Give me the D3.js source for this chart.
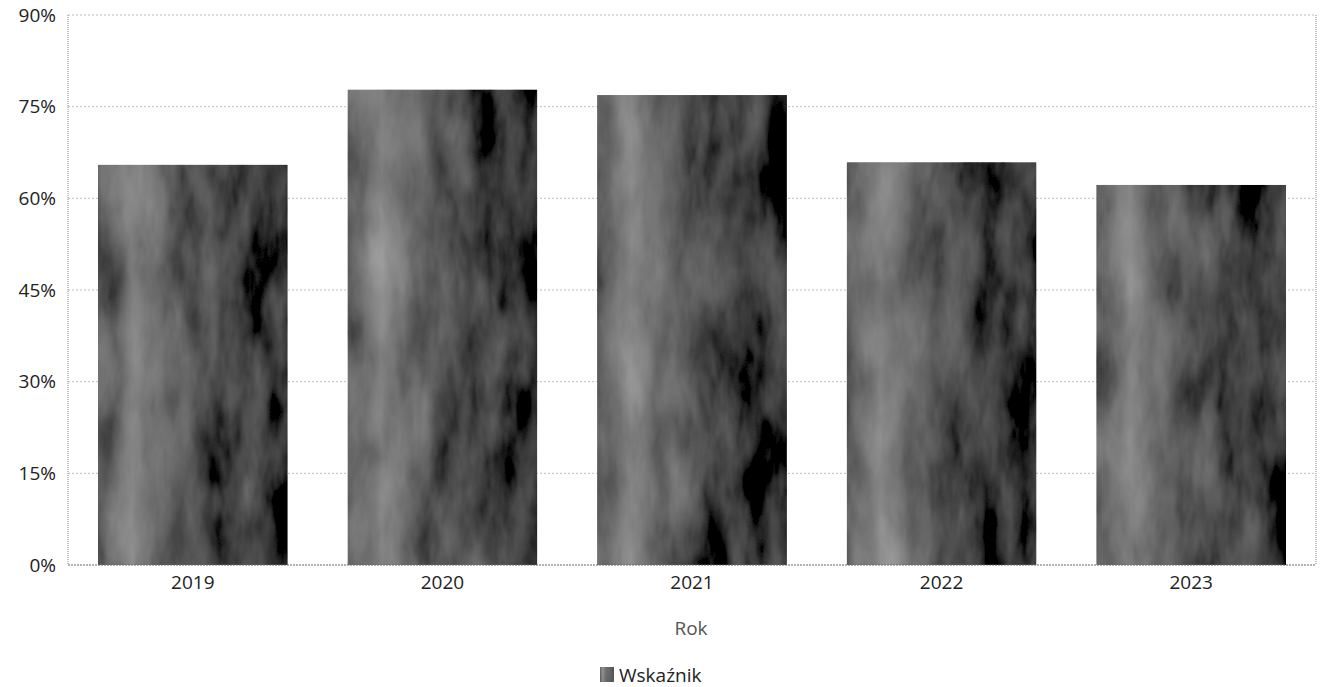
<!DOCTYPE html>
<html>
<head>
<meta charset="utf-8">
<script src="https://cdn.jsdelivr.net/npm/d3@7"></script>
<style>
  body { margin: 0; background: #fff; }
  text { font-family: "Open Sans", "Noto Sans", sans-serif; fill: #222; }
</style>
</head>
<body>
<div id="chart"></div>
<script>
const years = ["2019", "2020", "2021", "2022", "2023"];
const values = [65.5, 77.8, 76.9, 65.9, 62.2];
const yTicks = [0, 15, 30, 45, 60, 75, 90];
const seriesName = "Wskaźnik";
const xTitle = "Rok";

const W = 1325, H = 687;
const margin = { top: 15, right: 9, bottom: 122, left: 68 };
const width = W - margin.left - margin.right,
      height = H - margin.top - margin.bottom;

const svg = d3.select("#chart").append("svg")
  .attr("width", W)
  .attr("height", H);

// grey, scanned-looking texture for the bars
const defs = svg.append("defs");
const grad = defs.append("linearGradient").attr("id", "barGrad")
  .attr("x1", "0").attr("x2", "1").attr("y1", "0").attr("y2", "0");
grad.append("stop").attr("offset", "0").attr("stop-color", "#5e5e5e");
grad.append("stop").attr("offset", "0.18").attr("stop-color", "#888");
grad.append("stop").attr("offset", "0.45").attr("stop-color", "#585858");
grad.append("stop").attr("offset", "0.75").attr("stop-color", "#444");
grad.append("stop").attr("offset", "1").attr("stop-color", "#333");

const filt = defs.append("filter").attr("id", "grain")
  .attr("x", 0).attr("y", 0).attr("width", 1).attr("height", 1);
filt.append("feTurbulence").attr("type", "fractalNoise")
  .attr("baseFrequency", "0.03 0.01").attr("numOctaves", 4).attr("seed", 7)
  .attr("result", "noise");
filt.append("feColorMatrix").attr("in", "noise").attr("type", "matrix")
  .attr("values", "0.33 0.33 0.33 0 0  0.33 0.33 0.33 0 0  0.33 0.33 0.33 0 0  0 0 0 0 1")
  .attr("result", "gray");
filt.append("feComposite").attr("in", "SourceGraphic").attr("in2", "gray")
  .attr("operator", "arithmetic")
  .attr("k1", 0).attr("k2", 1).attr("k3", 0.45).attr("k4", -0.23)
  .attr("result", "mixed");
filt.append("feComposite").attr("in", "mixed").attr("in2", "SourceGraphic")
  .attr("operator", "in");

const g = svg.append("g")
  .attr("transform", `translate(${margin.left},${margin.top})`);

const x = d3.scaleBand()
  .domain(years)
  .range([0, width])
  .paddingInner(0.24)
  .paddingOuter(0.12);

const y = d3.scaleLinear()
  .domain([0, 90])
  .range([height, 0]);

// gridlines
g.append("g")
  .selectAll("line")
  .data(yTicks.filter(d => d > 0))
  .enter().append("line")
  .attr("x1", 0).attr("x2", width)
  .attr("y1", d => y(d)).attr("y2", d => y(d))
  .attr("stroke", "#bdbdbd")
  .attr("stroke-width", 1)
  .attr("stroke-dasharray", "2,2");

// left / right frame
g.append("line").attr("x1", 0).attr("x2", 0).attr("y1", 0).attr("y2", height)
  .attr("stroke", "#888").attr("stroke-dasharray", "1,1");
g.append("line").attr("x1", width).attr("x2", width).attr("y1", 0).attr("y2", height)
  .attr("stroke", "#888").attr("stroke-dasharray", "1,1");

// bars
g.selectAll("rect.bar")
  .data(values)
  .enter().append("rect")
  .attr("class", "bar")
  .attr("x", (d, i) => x(years[i]))
  .attr("y", d => y(d))
  .attr("width", x.bandwidth())
  .attr("height", d => height - y(d))
  .attr("fill", "url(#barGrad)")
  .attr("filter", "url(#grain)");

// bottom axis line
g.append("line").attr("x1", 0).attr("x2", width).attr("y1", height).attr("y2", height)
  .attr("stroke", "#666").attr("stroke-dasharray", "2,1");

// y labels
g.append("g")
  .selectAll("text")
  .data(yTicks)
  .enter().append("text")
  .attr("x", -12)
  .attr("y", d => y(d))
  .attr("dy", "0.35em")
  .attr("text-anchor", "end")
  .style("font-size", "19px")
  .text(d => d + "%");

// x labels
g.append("g")
  .selectAll("text")
  .data(years)
  .enter().append("text")
  .attr("x", d => x(d) + x.bandwidth() / 2)
  .attr("y", height + 24)
  .attr("text-anchor", "middle")
  .style("font-size", "19px")
  .text(d => d);

// axis title
svg.append("text")
  .attr("x", 691)
  .attr("y", 635)
  .attr("text-anchor", "middle")
  .style("font-size", "19px")
  .style("fill", "#555")
  .text(xTitle);

// legend
const leg = svg.append("g").attr("transform", "translate(600,667)");
leg.append("rect")
  .attr("width", 14).attr("height", 15)
  .attr("fill", "url(#barGrad)")
  .attr("filter", "url(#grain)");
leg.append("text")
  .attr("x", 19).attr("y", 8)
  .attr("dy", "0.35em")
  .style("font-size", "19px")
  .text(seriesName);
</script>
</body>
</html>
